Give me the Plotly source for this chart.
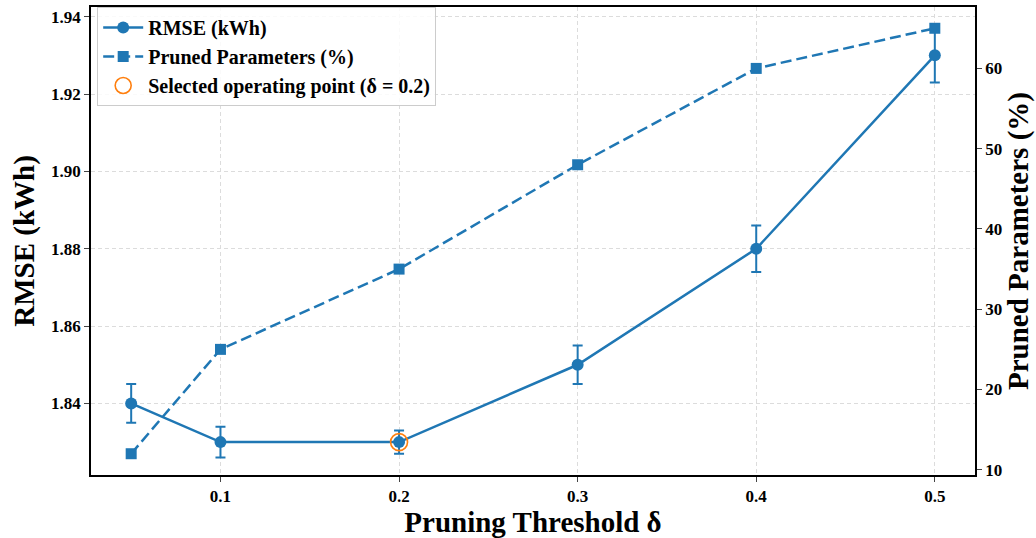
import plotly.graph_objects as go

# Pruning thresholds and measured results
thresholds = [0.05, 0.1, 0.2, 0.3, 0.4, 0.5]
rmse = [1.84, 1.83, 1.83, 1.85, 1.88, 1.93]
rmse_err = [0.005, 0.004, 0.003, 0.005, 0.006, 0.007]
pruned_pct = [12, 25, 35, 48, 60, 65]

selected_delta = [0.2]
selected_rmse = [1.83]

x_ticks = [0.1, 0.2, 0.3, 0.4, 0.5]
rmse_ticks = [1.84, 1.86, 1.88, 1.90, 1.92, 1.94]
pct_ticks = [10, 20, 30, 40, 50, 60]

BLUE = "#1f77b4"
ORANGE = "#ff7f0e"
FONT = "Liberation Serif"

fig = go.Figure()

fig.add_trace(go.Scatter(
    x=thresholds, y=rmse, name="<b>RMSE (kWh)</b>",
    mode="lines+markers",
    line=dict(color=BLUE, width=2.5),
    marker=dict(symbol="circle", size=12, color=BLUE),
    error_y=dict(type="data", array=rmse_err, visible=True,
                 color=BLUE, thickness=2, width=5),
    yaxis="y",
))

fig.add_trace(go.Scatter(
    x=thresholds, y=pruned_pct, name="<b>Pruned Parameters (%)</b>",
    mode="lines+markers",
    line=dict(color=BLUE, width=2.5, dash="11px,5px"),
    marker=dict(symbol="square", size=11, color=BLUE),
    yaxis="y2",
))

fig.add_trace(go.Scatter(
    x=selected_delta, y=selected_rmse,
    name="<b>Selected operating point (δ = 0.2)</b>",
    mode="markers",
    marker=dict(symbol="circle-open", size=17, color=ORANGE,
                line=dict(width=1.6, color=ORANGE)),
    yaxis="y",
))

axis_font = dict(family=FONT, size=17, color="black")
title_font = dict(family=FONT, size=29, color="black")
GRID = "#dcdcdc"

fig.update_layout(
    width=1036, height=538,
    margin=dict(l=91, r=61, t=5, b=59),
    plot_bgcolor="white", paper_bgcolor="white",
    font=dict(family=FONT, color="black"),
    showlegend=True,
    legend=dict(
        x=0.007, y=1.0, xanchor="left", yanchor="top",
        bgcolor="rgba(255,255,255,0.85)",
        bordercolor="#cccccc", borderwidth=1,
        font=dict(family=FONT, size=20, color="black"),
        tracegroupgap=0, itemwidth=40,
    ),
    xaxis=dict(
        range=[0.0275, 0.5225],
        tickvals=x_ticks, ticktext=[f"<b>{v:g}</b>" for v in x_ticks],
        tickfont=axis_font, ticks="outside", ticklen=5, tickwidth=1.2,
        showline=True, linecolor="black", linewidth=1.5, mirror=True,
        showgrid=True, gridcolor=GRID, griddash="4px,3px", gridwidth=1,
        zeroline=False,
        title=dict(text="<b>Pruning Threshold δ</b>", font=title_font, standoff=7),
    ),
    yaxis=dict(
        range=[1.8215, 1.9425],
        tickvals=rmse_ticks, ticktext=[f"<b>{v:.2f}</b>" for v in rmse_ticks],
        tickfont=axis_font, ticks="outside", ticklen=5, tickwidth=1.2,
        showline=True, linecolor="black", linewidth=1.5, mirror=True,
        showgrid=True, gridcolor=GRID, griddash="4px,3px", gridwidth=1,
        zeroline=False,
        title=dict(text="<b>RMSE (kWh)</b>", font=title_font, standoff=8),
    ),
    yaxis2=dict(
        overlaying="y", side="right",
        range=[9.35, 67.65],
        tickvals=pct_ticks, ticktext=[f"<b>{v}</b>" for v in pct_ticks],
        tickfont=axis_font, ticks="outside", ticklen=5, tickwidth=1.2,
        showline=True, linecolor="black", linewidth=1.5,
        showgrid=False, zeroline=False,
        title=dict(text="<b>Pruned Parameters (%)</b>", font=title_font, standoff=6),
    ),
)

fig.write_html("out.html")
